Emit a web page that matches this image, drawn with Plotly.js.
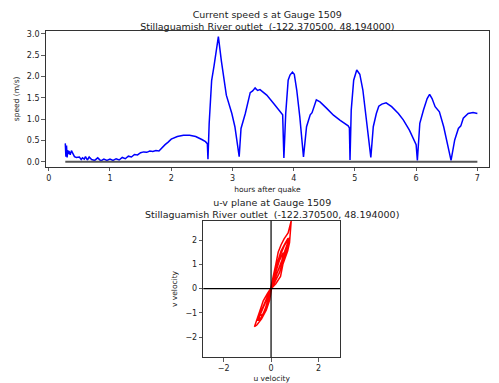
<!DOCTYPE html>
<html>
<head>
<meta charset="utf-8">
<script src="https://cdn.plot.ly/plotly-3.0.1.min.js"></script>
<style>html,body{margin:0;padding:0;background:#fff;}#chart{width:499px;height:383px;}</style>
</head>
<body>
<div id="chart"></div>
<script>
// Current speed at gauge 1509 (hours after quake, m/s)
const hours = [0.27,0.28,0.29,0.30,0.31,0.32,0.33,0.35,0.37,0.39,0.42,0.45,0.50,0.53,0.55,0.58,0.60,0.63,0.66,0.70,0.75,0.80,0.85,0.90,0.95,1.00,1.05,1.10,1.15,1.20,1.25,1.30,1.35,1.40,1.45,1.50,1.55,1.60,1.65,1.70,1.75,1.80,1.85,1.90,1.95,2.00,2.10,2.20,2.30,2.40,2.50,2.56,2.59,2.60,2.62,2.66,2.70,2.74,2.77,2.82,2.90,2.99,3.04,3.11,3.14,3.21,3.29,3.33,3.37,3.41,3.45,3.50,3.56,3.67,3.75,3.82,3.84,3.87,3.91,3.94,3.98,4.01,4.05,4.10,4.16,4.21,4.27,4.30,4.37,4.43,4.54,4.65,4.76,4.89,4.91,4.92,4.94,4.98,5.03,5.08,5.13,5.19,5.26,5.30,5.35,5.39,5.44,5.51,5.60,5.71,5.79,5.89,5.96,6.00,6.02,6.06,6.12,6.18,6.22,6.26,6.31,6.38,6.45,6.50,6.57,6.63,6.69,6.73,6.77,6.85,6.93,7.00];
const speed = [0.43,0.12,0.38,0.10,0.27,0.18,0.25,0.16,0.26,0.20,0.12,0.10,0.11,0.05,0.09,0.06,0.12,0.04,0.11,0.05,0.03,0.09,0.02,0.06,0.03,0.06,0.03,0.07,0.04,0.10,0.07,0.13,0.11,0.17,0.16,0.21,0.23,0.22,0.25,0.24,0.26,0.25,0.33,0.40,0.46,0.53,0.59,0.62,0.62,0.59,0.52,0.47,0.42,0.06,0.90,1.90,2.25,2.60,2.93,2.35,1.56,1.13,0.82,0.12,0.78,1.13,1.62,1.66,1.73,1.67,1.69,1.63,1.56,1.37,1.21,1.10,0.09,1.13,1.91,2.03,2.10,2.05,1.68,1.05,0.11,0.82,1.10,1.15,1.45,1.40,1.25,1.09,0.97,0.84,0.79,0.04,1.21,1.91,2.15,2.05,1.68,0.98,0.10,0.82,1.13,1.30,1.35,1.38,1.29,1.13,0.98,0.74,0.51,0.40,0.03,0.90,1.21,1.48,1.58,1.48,1.29,1.17,0.82,0.51,0.03,0.51,0.78,0.84,1.02,1.13,1.15,1.13];
// Zero reference line endpoints (hours)
const zeroLineHours = [0.27, 7.0];
const zeroLineSpeed = [0, 0];

// u-v velocity trajectory
const uVel = [0.02,-0.03,0.04,0.00,
  0.20,0.40,0.50,0.62,0.70,0.78,0.80,0.80,0.85,
  0.72,0.55,0.42,0.30,0.20,0.12,0.05,-0.02,
  -0.15,-0.33,-0.46,-0.62,-0.70,-0.60,-0.40,-0.20,-0.06,0.02,
  0.15,0.35,0.48,0.62,0.72,0.76,0.70,0.58,0.42,0.28,0.15,0.05,
  -0.12,-0.28,-0.42,-0.55,-0.48,-0.32,-0.16,-0.03,
  0.12,0.30,0.45,0.58,0.70,0.78,0.70,0.55,0.40,0.25,0.12,0.04,
  -0.14,-0.30,-0.45,-0.52,-0.40,-0.25,-0.12,-0.02,
  0.10,0.28,0.42,0.55,0.62,0.50,0.35,0.22,0.10,0.02,
  -0.12,-0.28,-0.40,-0.45,-0.42,-0.40];
const vVel = [0.05,-0.05,0.08,0.00,
  0.20,0.50,1.00,1.30,1.55,1.90,2.10,2.40,2.79,
  2.30,2.05,1.80,1.50,1.00,0.60,0.30,0.00,
  -0.20,-0.50,-0.88,-1.29,-1.57,-1.50,-1.25,-0.88,-0.47,0.00,
  0.25,0.65,1.05,1.45,1.80,2.00,2.05,1.85,1.55,1.10,0.65,0.20,
  -0.25,-0.60,-0.95,-1.30,-1.30,-1.00,-0.60,-0.10,
  0.30,0.70,1.15,1.55,1.90,2.10,2.00,1.75,1.40,0.95,0.50,0.12,
  -0.30,-0.65,-1.00,-1.25,-1.20,-0.85,-0.45,-0.08,
  0.30,0.70,1.05,1.35,1.50,1.45,1.15,0.75,0.35,0.05,
  -0.30,-0.65,-0.90,-1.05,-1.08,-1.05];

const FONT = 'DejaVu Sans, sans-serif';
const TXT = '#222';

const traces = [
  {x: hours, y: speed, type: 'scatter', mode: 'lines', line: {color: '#0000ff', width: 1.5}, xaxis: 'x', yaxis: 'y', hoverinfo: 'skip'},
  {x: zeroLineHours, y: zeroLineSpeed, type: 'scatter', mode: 'lines', line: {color: '#555', width: 2}, xaxis: 'x', yaxis: 'y', hoverinfo: 'skip'},
  {x: uVel, y: vVel, type: 'scatter', mode: 'lines', line: {color: '#ff0000', width: 1.5}, xaxis: 'x2', yaxis: 'y2', hoverinfo: 'skip'}
];

const axCommon = {
  showline: true, mirror: true, linecolor: '#333', linewidth: 1,
  ticks: 'outside', ticklen: 3.5, tickwidth: 0.8, tickcolor: '#333',
  showgrid: false, zeroline: false,
  tickfont: {family: FONT, size: 8, color: TXT}
};

const layout = {
  width: 499, height: 383,
  margin: {l: 0, r: 0, t: 0, b: 0},
  paper_bgcolor: '#fff', plot_bgcolor: '#fff',
  showlegend: false,
  font: {family: FONT, color: TXT},
  title: {
    text: 'Current speed s at Gauge 1509<br>Stillaguamish River outlet \u00a0(-122.370500, 48.194000)',
    font: {family: FONT, size: 9.5, color: TXT},
    x: 0.5357, xanchor: 'center', y: 1 - 17.5/383, yanchor: 'middle'
  },
  xaxis: Object.assign({}, axCommon, {
    domain: [45.7/499, 489/499], anchor: 'y',
    range: [-0.05, 7.19], tickvals: [0,1,2,3,4,5,6,7],
    title: {text: 'hours after quake', font: {family: FONT, size: 7.5, color: TXT}, standoff: 4}
  }),
  yaxis: Object.assign({}, axCommon, {
    domain: [1 - 166.7/383, 1 - 31/383], anchor: 'x',
    range: [-0.117, 3.063], tickvals: [0,0.5,1,1.5,2,2.5,3], tickformat: '.1f',
    title: {text: 'speed (m/s)', font: {family: FONT, size: 7.5, color: TXT}, standoff: 6}
  }),
  xaxis2: Object.assign({}, axCommon, {
    domain: [203.3/499, 340/499], anchor: 'y2',
    range: [-2.86, 2.91], tickvals: [-2,0,2], ticktext: ['\u22122','0','2'],
    title: {text: 'u velocity', font: {family: FONT, size: 7.5, color: TXT}, standoff: 4}
  }),
  yaxis2: Object.assign({}, axCommon, {
    domain: [1 - 357.3/383, 1 - 220.7/383], anchor: 'x2',
    range: [-2.83, 2.80], tickvals: [-2,-1,0,1,2], ticktext: ['\u22122','\u22121','0','1','2'],
    title: {text: 'v velocity', font: {family: FONT, size: 7.5, color: TXT}, standoff: 6}
  }),
  shapes: [
    {type: 'line', layer: 'above', xref: 'x2', yref: 'y2 domain', x0: 0, x1: 0, y0: 0, y1: 1, line: {color: '#000', width: 1.2}},
    {type: 'line', layer: 'above', xref: 'x2 domain', yref: 'y2', x0: 0, x1: 1, y0: 0, y1: 0, line: {color: '#000', width: 1.2}}
  ],
  annotations: [{
    text: 'u-v plane at Gauge 1509<br>Stillaguamish River outlet \u00a0(-122.370500, 48.194000)',
    xref: 'paper', yref: 'paper', x: 271.6/499, y: 1 - 208/383,
    xanchor: 'center', yanchor: 'middle', showarrow: false,
    font: {family: FONT, size: 9.5, color: TXT}
  }]
};

Plotly.newPlot('chart', traces, layout, {displayModeBar: false, staticPlot: true});
</script>
</body>
</html>
